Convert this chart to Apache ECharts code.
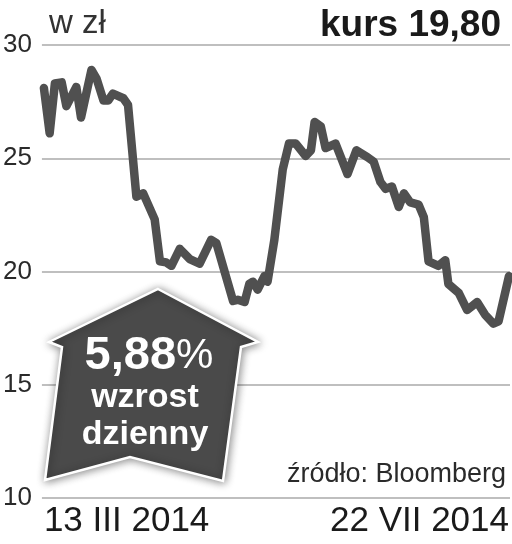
<!DOCTYPE html>
<html>
<head>
<meta charset="utf-8">
<script src="https://cdn.jsdelivr.net/npm/echarts@6/dist/echarts.min.js"></script>
<style>html,body{margin:0;padding:0;background:#fff}#c{width:512px;height:544px}</style>
</head>
<body>
<div id="c"></div>
<script>
// trading-day index (0 = 13 III 2014, 89 = 22 VII 2014)
var days = [0, 1.1, 2.1, 3.4, 4.3, 6.2, 7.1, 9.1, 10.1, 11.4, 12.3, 13.2, 15.2, 16.1, 17.7, 19.0, 21.2, 22.2, 23.4, 24.4, 26.0, 27.9, 29.8, 32.0, 33.0, 36.2, 37.1, 38.4, 39.3, 40.0, 40.9, 42.2, 42.8, 44.1, 45.7, 46.9, 48.2, 50.1, 51.1, 51.8, 53.0, 53.9, 55.8, 58.1, 59.8, 61.9, 63.1, 64.4, 65.4, 66.6, 67.9, 68.9, 70.1, 71.7, 72.7, 73.6, 75.5, 76.8, 77.4, 79.4, 81.0, 82.9, 84.4, 86.0, 87.0, 89];
var prices = [28.1, 26.1, 28.3, 28.35, 27.3, 28.15, 26.8, 28.9, 28.5, 27.55, 27.55, 27.85, 27.65, 27.35, 23.3, 23.45, 22.3, 20.45, 20.4, 20.25, 21.0, 20.55, 20.35, 21.4, 21.25, 18.7, 18.75, 18.65, 19.45, 19.55, 19.2, 19.8, 19.55, 21.4, 24.5, 25.65, 25.65, 25.1, 25.35, 26.6, 26.4, 25.45, 25.65, 24.3, 25.35, 25.05, 24.85, 23.95, 23.65, 23.75, 22.85, 23.45, 23.05, 22.95, 22.4, 20.45, 20.25, 20.5, 19.45, 19.05, 18.3, 18.65, 18.1, 17.7, 17.8, 19.8];
var dateLabels = ['13 III 2014', '22 VII 2014'];
var dateLabelPos = [0, 89];
var yTicks = [10, 15, 20, 25, 30];
var unitLabel = 'w zł';
var kursLabel = 'kurs';
var kursValue = '19,80';
var changeValue = '5,88';
var changeLines = ['wzrost', 'dzienny'];
var sourceLabel = 'źródło: Bloomberg';

var points = days.map(function (d, i) { return [d, prices[i]]; });

var chart = echarts.init(document.getElementById('c'), null, {renderer: 'canvas'});
chart.setOption({
  animation: false,
  backgroundColor: '#fff',
  title: {
    text: '{a|' + kursLabel + ' }{b|' + kursValue + '}',
    right: 6, top: 2,
    textStyle: {
      rich: {
        a: {fontFamily: 'Liberation Sans', fontSize: 37, color: '#1a1a1a'},
        b: {fontFamily: 'Liberation Sans', fontSize: 37, fontWeight: 'bold', color: '#1a1a1a'}
      }
    }
  },
  grid: {left: 40, right: 2, top: 45, bottom: 46},
  xAxis: {
    type: 'value', min: -0.38, max: 89.19,
    axisLine: {show: false}, axisTick: {show: false}, splitLine: {show: false},
    axisLabel: {
      customValues: dateLabelPos,
      formatter: function (v) { var i = dateLabelPos.indexOf(v); return i >= 0 ? dateLabels[i] : ''; },
      alignMinLabel: 'left', alignMaxLabel: 'right',
      fontFamily: 'Liberation Sans', fontSize: 35, color: '#1a1a1a', margin: 6
    }
  },
  yAxis: {
    type: 'value', min: yTicks[0], max: yTicks[yTicks.length - 1], interval: 5,
    axisLine: {show: false}, axisTick: {show: false},
    splitLine: {show: true, lineStyle: {color: '#aaaaaa', width: 1.5}},
    axisLabel: {fontFamily: 'Liberation Sans', fontSize: 26, color: '#2a2a2a', margin: 10, padding: [6, 0, 0, 0]}
  },
  series: [{
    type: 'line', data: points, symbol: 'none', smooth: false,
    lineStyle: {color: '#505050', width: 8.5, join: 'round', cap: 'round'},
    z: 3
  }],
  graphic: [
    {type: 'text', left: 49, top: 7, style: {text: unitLabel, font: '33px "Liberation Sans"', fill: '#333'}},
    {type: 'text', right: 6, top: 461, style: {text: sourceLabel, font: '27px "Liberation Sans"', fill: '#2a2a2a'}},
    {
      type: 'polygon', z: 10,
      shape: {points: [[158, 289], [258, 342], [241, 347], [223, 481], [130, 457], [45, 480], [62, 347], [49, 342]]},
      style: {fill: '#4a4a4a', stroke: '#ffffff', lineWidth: 2.5, shadowBlur: 8, shadowColor: 'rgba(0,0,0,0.45)', shadowOffsetX: 1, shadowOffsetY: 1}
    },
    {
      type: 'text', z: 11, x: 149, y: 356,
      style: {
        text: '{n|' + changeValue + '}{p|%}', textAlign: 'center', textVerticalAlign: 'middle',
        rich: {
          n: {fontFamily: 'Liberation Sans', fontWeight: 'bold', fontSize: 47, fill: '#fff', color: '#fff'},
          p: {fontFamily: 'Liberation Sans', fontSize: 42, fill: '#fff', color: '#fff'}
        }
      }
    },
    {type: 'text', z: 11, x: 145, y: 398, style: {text: changeLines[0], font: 'bold 34px "Liberation Sans"', fill: '#fff', textAlign: 'center', textVerticalAlign: 'middle'}},
    {type: 'text', z: 11, x: 145, y: 435, style: {text: changeLines[1], font: 'bold 34px "Liberation Sans"', fill: '#fff', textAlign: 'center', textVerticalAlign: 'middle'}}
  ]
});
</script>
</body>
</html>
